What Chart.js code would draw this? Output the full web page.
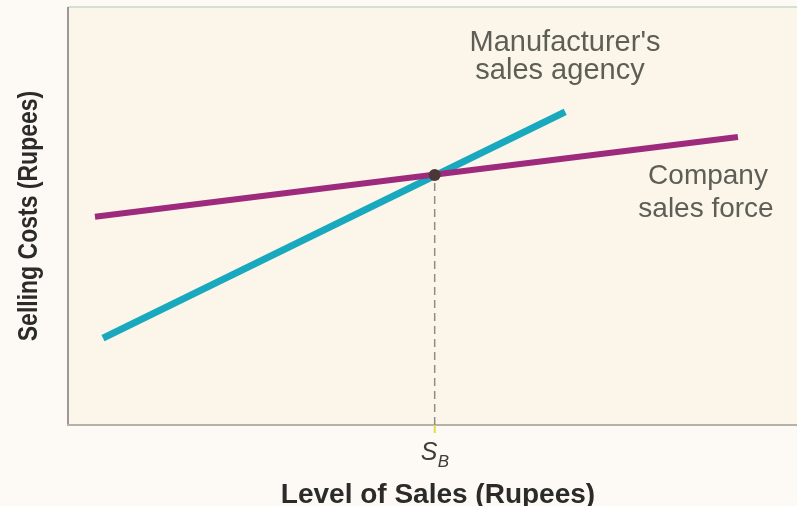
<!DOCTYPE html>
<html>
<head>
<meta charset="utf-8">
<script src="https://cdn.jsdelivr.net/npm/chart.js@4"></script>
<style>
  body { margin: 0; background: #fdfaf6; }
  canvas { display: block; }
</style>
</head>
<body>
<canvas id="chart" width="797" height="506"></canvas>
<script>
// DATA
const agencyX = [4.8, 68.2];      // manufacturer's sales agency
const agencyY = [20.8, 74.9];
const forceX = [3.7, 91.9];       // company sales force
const forceY = [49.8, 68.9];
const breakEvenX = 50.3;          // S_B
const breakEvenY = 59.8;
const agencyLabel = ["Manufacturer's", 'sales agency'];
const forceLabel = ['Company', 'sales force'];
const xTitle = 'Level of Sales (Rupees)';
const yTitle = 'Selling Costs (Rupees)';

const toPoints = (xs, ys) => xs.map((x, i) => ({ x: x, y: ys[i] }));

// background, frame and texts
const decor = {
    id: 'decor',
    beforeDatasetsDraw(chart) {
        const { ctx, chartArea: a } = chart;
        ctx.save();
        ctx.fillStyle = '#fcf6ea';
        ctx.fillRect(a.left, a.top, a.right - a.left, a.bottom - a.top);
        ctx.lineWidth = 2;
        ctx.strokeStyle = '#d3e0d2';
        ctx.beginPath(); ctx.moveTo(a.left, a.top); ctx.lineTo(a.right, a.top); ctx.stroke();
        ctx.strokeStyle = '#9b9a92';
        ctx.beginPath(); ctx.moveTo(a.left, a.top); ctx.lineTo(a.left, a.bottom); ctx.stroke();
        ctx.strokeStyle = '#b3b2a4';
        ctx.beginPath(); ctx.moveTo(a.left - 1, a.bottom); ctx.lineTo(a.right, a.bottom); ctx.stroke();
        ctx.restore();
    },
    afterDraw(chart) {
        const { ctx, chartArea: a, scales } = chart;
        const sx = scales.x.getPixelForValue(breakEvenX);
        ctx.save();
        // small tick at S_B
        ctx.strokeStyle = '#e8d84a';
        ctx.lineWidth = 2;
        ctx.beginPath(); ctx.moveTo(sx, a.bottom); ctx.lineTo(sx, a.bottom + 8); ctx.stroke();

        ctx.fillStyle = '#5d5e56';
        ctx.textAlign = 'center';
        ctx.textBaseline = 'alphabetic';
        ctx.font = '29px "Liberation Sans", Arial, sans-serif';
        ctx.fillText(agencyLabel[0], 565, 51);
        ctx.fillText(agencyLabel[1], 560, 79);
        ctx.font = '28px "Liberation Sans", Arial, sans-serif';
        ctx.fillText(forceLabel[0], 708, 184);
        ctx.fillText(forceLabel[1], 706, 217);

        // S_B
        ctx.fillStyle = '#3c3c38';
        ctx.textAlign = 'left';
        ctx.font = 'italic 25px "Liberation Sans", Arial, sans-serif';
        ctx.fillText('S', sx - 14, 460);
        ctx.font = 'italic 17px "Liberation Sans", Arial, sans-serif';
        ctx.fillText('B', sx + 3, 467);

        // axis titles
        ctx.fillStyle = '#2b2b29';
        ctx.textAlign = 'center';
        ctx.font = 'bold 28px "Liberation Sans", Arial, sans-serif';
        ctx.fillText(xTitle, 438, 503);

        ctx.translate(37, 216);
        ctx.rotate(-Math.PI / 2);
        ctx.scale(1, 1.2);
        ctx.font = 'bold 23px "Liberation Sans", Arial, sans-serif';
        ctx.fillText(yTitle, 0, 0);
        ctx.restore();
    }
};

new Chart(document.getElementById('chart'), {
    type: 'scatter',
    data: {
        datasets: [
            {
                data: [{ x: breakEvenX, y: breakEvenY }],
                pointRadius: 6,
                pointBackgroundColor: '#4a3838',
                pointBorderWidth: 0,
                order: 0
            },
            {
                data: toPoints(forceX, forceY),
                showLine: true,
                borderColor: '#9e2a7d',
                borderWidth: 6,
                pointRadius: 0,
                order: 1
            },
            {
                data: toPoints(agencyX, agencyY),
                showLine: true,
                borderColor: '#19a9bf',
                borderWidth: 7,
                pointRadius: 0,
                order: 2
            },
            {
                data: [{ x: breakEvenX, y: 0 }, { x: breakEvenX, y: breakEvenY }],
                showLine: true,
                borderColor: '#8d8d86',
                borderWidth: 1.5,
                borderDash: [8, 5],
                pointRadius: 0,
                order: 3
            }
        ]
    },
    options: {
        responsive: false,
        animation: false,
        layout: { autoPadding: false, padding: { left: 68, top: 7, right: 0, bottom: 81 } },
        plugins: { legend: { display: false }, tooltip: { enabled: false } },
        scales: {
            x: { type: 'linear', min: 0, max: 100, display: false },
            y: { type: 'linear', min: 0, max: 100, display: false }
        }
    },
    plugins: [decor]
});
</script>
</body>
</html>
